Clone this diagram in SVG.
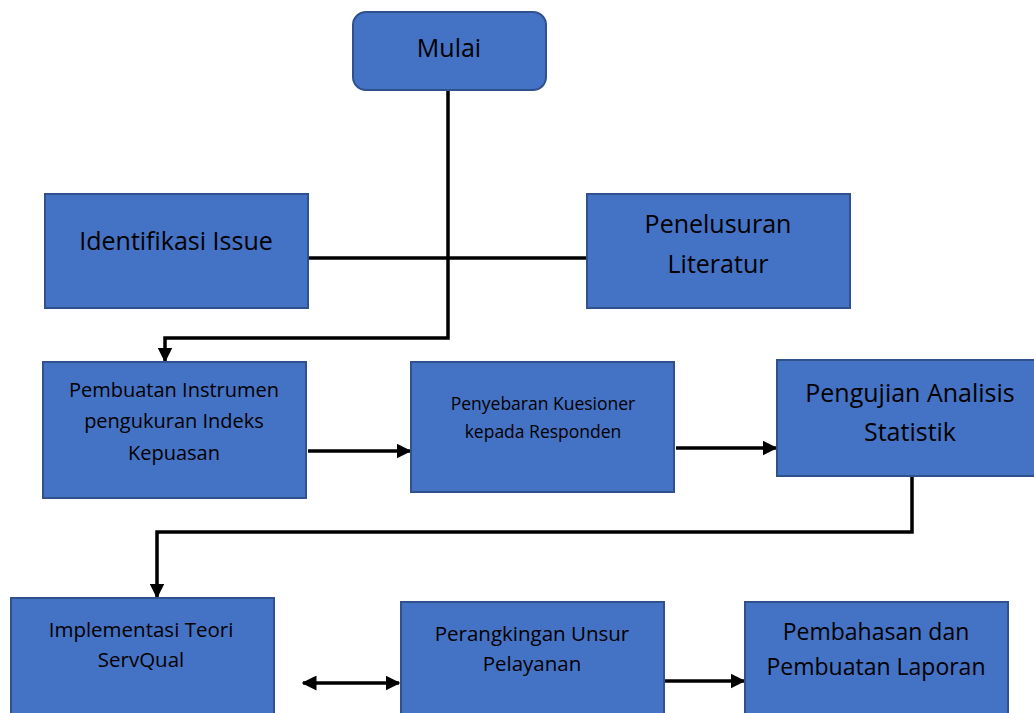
<svg xmlns="http://www.w3.org/2000/svg" width="1034" height="713" viewBox="0 0 1034 713">
<style>
.box{fill:#4472C4;stroke:#2F528F;stroke-width:2}
.t{font-family:"Open Sans","Liberation Sans",sans-serif;fill:#000;text-anchor:middle}
.c{fill:none;stroke:#000;stroke-width:3.5}
</style>
<defs>
<marker id="ah" viewBox="0 0 10 10" refX="9" refY="5" markerWidth="15" markerHeight="15" orient="auto-start-reverse" markerUnits="userSpaceOnUse">
<path d="M0,0 L10,5 L0,10 z" fill="#000"/>
</marker>
</defs>
<rect width="1034" height="713" fill="#fff"/>
<g id="connectors">
<path class="c" d="M448,90 V338 H165 V361" marker-end="url(#ah)"/>
<path class="c" d="M308,258 H587"/>
<path class="c" d="M308,451 H410" marker-end="url(#ah)"/>
<path class="c" d="M676,448 H776" marker-end="url(#ah)"/>
<path class="c" d="M912,476 V532 H157 V597" marker-end="url(#ah)"/>
<path class="c" d="M303,683 H399" marker-start="url(#ah)" marker-end="url(#ah)"/>
<path class="c" d="M663,681 H744" marker-end="url(#ah)"/>
</g>
<g id="mulai">
<rect class="box" x="353" y="12" width="193" height="78" rx="13"/>
<text class="t" x="449" y="57" font-size="25">Mulai</text>
</g>
<g id="identifikasi">
<rect class="box" x="45" y="194" width="263" height="114"/>
<text class="t" x="176" y="250" font-size="25">Identifikasi Issue</text>
</g>
<g id="penelusuran">
<rect class="box" x="587" y="194" width="263" height="114"/>
<text class="t" x="718" y="233" font-size="25">Penelusuran</text>
<text class="t" x="718" y="273" font-size="25">Literatur</text>
</g>
<g id="pembuatan">
<rect class="box" x="43" y="362" width="263" height="136"/>
<text class="t" x="174" y="397" font-size="20">Pembuatan Instrumen</text>
<text class="t" x="174" y="428" font-size="20">pengukuran Indeks</text>
<text class="t" x="174" y="460" font-size="20">Kepuasan</text>
</g>
<g id="penyebaran">
<rect class="box" x="411" y="362" width="263" height="130"/>
<text class="t" x="543" y="410" font-size="17.5">Penyebaran Kuesioner</text>
<text class="t" x="543" y="438" font-size="17.5">kepada Responden</text>
</g>
<g id="pengujian">
<rect class="box" x="777" y="360" width="262" height="116"/>
<text class="t" x="910" y="402" font-size="25">Pengujian Analisis</text>
<text class="t" x="910" y="441" font-size="25">Statistik</text>
</g>
<g id="implementasi">
<rect class="box" x="11" y="598" width="263" height="120"/>
<text class="t" x="141" y="637" font-size="20.5">Implementasi Teori</text>
<text class="t" x="141" y="667" font-size="20.5">ServQual</text>
</g>
<g id="perangkingan">
<rect class="box" x="401" y="602" width="263" height="116"/>
<text class="t" x="532" y="641" font-size="20.5">Perangkingan Unsur</text>
<text class="t" x="532" y="671" font-size="20.5">Pelayanan</text>
</g>
<g id="pembahasan">
<rect class="box" x="745" y="602" width="263" height="116"/>
<text class="t" x="876" y="640" font-size="23">Pembahasan dan</text>
<text class="t" x="876" y="675" font-size="23">Pembuatan Laporan</text>
</g>
</svg>
